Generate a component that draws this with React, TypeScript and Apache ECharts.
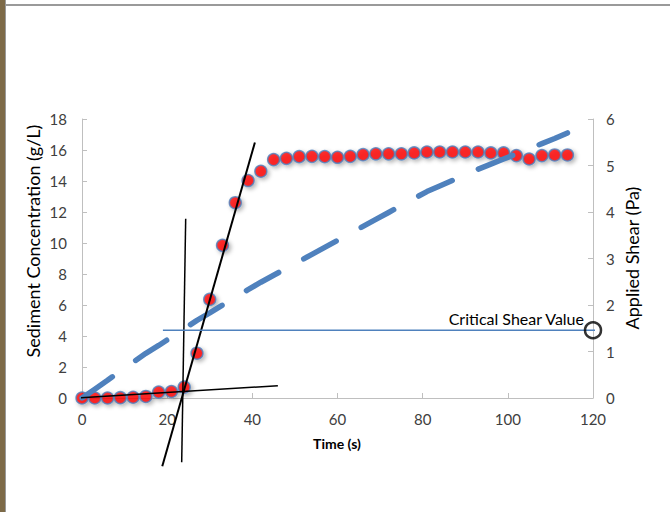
import React, { useEffect, useRef } from "react";
import * as echarts from "echarts";

const timeS = [0, 3, 6, 9, 12, 15, 18, 21, 24, 27, 30, 33, 36, 39, 42, 45, 48, 51, 54, 57, 60, 63, 66, 69, 72, 75, 78, 81, 84, 87, 90, 93, 96, 99, 102, 105, 108, 111, 114];
const sedimentConc = [0.0, 0.0, 0.0, 0.02, 0.05, 0.1, 0.38, 0.42, 0.7, 2.89, 6.36, 9.85, 12.6, 14.03, 14.63, 15.38, 15.46, 15.57, 15.59, 15.57, 15.53, 15.59, 15.7, 15.75, 15.75, 15.75, 15.81, 15.87, 15.87, 15.87, 15.87, 15.87, 15.81, 15.81, 15.64, 15.42, 15.64, 15.68, 15.68];
const appliedShear = [0, 0.19, 0.38, 0.58, 0.77, 0.96, 1.13, 1.31, 1.49, 1.67, 1.83, 2.0, 2.16, 2.33, 2.49, 2.64, 2.79, 2.94, 3.09, 3.24, 3.39, 3.54, 3.69, 3.84, 3.99, 4.14, 4.29, 4.44, 4.56, 4.68, 4.8, 4.92, 5.03, 5.14, 5.25, 5.36, 5.47, 5.58, 5.7];

const steepTangent = [[18.85, -4.4], [40.6, 16.49]];
const baselineTangent = [[-10.8, -0.17], [46, 0.79]];
const onsetLine = [[23.41, -4.14], [24.35, 11.57]];
const criticalShear = 1.457;
const criticalRange = [19, 123];
const criticalMarkerTime = 120;

const xTicks = { min: 0, max: 120, interval: 20 };
const leftTicks = { min: 0, max: 18, interval: 2 };
const rightTicks = { min: 0, max: 6, interval: 1 };

const FONT = "Lato, 'Open Sans', sans-serif";

export default function App() {
  const ref = useRef<HTMLDivElement>(null);
  useEffect(() => {
    if (!ref.current) return;
    const chart = echarts.init(ref.current, undefined, { renderer: "svg" });
    const axisLine = { show: true, lineStyle: { color: "#bfbfbf", width: 1 } };
    const axisTick = { show: true, inside: true, length: 5, lineStyle: { color: "#bfbfbf" } };
    const axisLabel = { color: "#404040", fontSize: 15, fontFamily: FONT };
    chart.setOption({
      animation: false,
      backgroundColor: "#ffffff",
      grid: { left: 82, right: 77, top: 119, bottom: 114, containLabel: false },
      xAxis: {
        type: "value",
        min: xTicks.min,
        max: xTicks.max,
        interval: xTicks.interval,
        axisLine,
        axisTick,
        splitLine: { show: false },
        axisLabel: { ...axisLabel, margin: 13 },
      },
      yAxis: [
        {
          type: "value",
          min: leftTicks.min,
          max: leftTicks.max,
          interval: leftTicks.interval,
          axisLine,
          axisTick,
          splitLine: { show: false },
          axisLabel: { ...axisLabel, margin: 15 },
        },
        {
          type: "value",
          position: "right",
          min: rightTicks.min,
          max: rightTicks.max,
          interval: rightTicks.interval,
          axisLine,
          axisTick,
          splitLine: { show: false },
          axisLabel: { ...axisLabel, margin: 13 },
        },
      ],
      series: [
        {
          name: "Sediment Concentration",
          type: "scatter",
          yAxisIndex: 0,
          symbol: "circle",
          symbolSize: 12,
          data: timeS.map((t, i) => [t, sedimentConc[i]]),
          itemStyle: {
            color: "#ff0000",
            borderColor: "#4f81bd",
            borderWidth: 1.5,
            shadowColor: "rgba(0,0,0,0.35)",
            shadowBlur: 4,
            shadowOffsetX: 2,
            shadowOffsetY: 2,
          },
          z: 2,
        },
        {
          name: "Applied Shear",
          type: "line",
          yAxisIndex: 1,
          symbol: "none",
          smooth: false,
          data: timeS.map((t, i) => [t, appliedShear[i]]),
          lineStyle: { color: "#4f81bd", width: 5.5, type: [37, 28.5], cap: "round" },
          z: 3,
        },
        {
          type: "line",
          yAxisIndex: 0,
          symbol: "none",
          clip: false,
          silent: true,
          data: steepTangent,
          lineStyle: { color: "#000", width: 2 },
          z: 4,
        },
        {
          type: "line",
          yAxisIndex: 0,
          symbol: "none",
          clip: false,
          silent: true,
          data: baselineTangent,
          lineStyle: { color: "#000", width: 1.5 },
          z: 4,
        },
        {
          type: "line",
          yAxisIndex: 0,
          symbol: "none",
          clip: false,
          silent: true,
          data: onsetLine,
          lineStyle: { color: "#000", width: 1.5 },
          z: 4,
        },
        {
          type: "line",
          yAxisIndex: 1,
          symbol: "none",
          clip: false,
          silent: true,
          data: criticalRange.map((t) => [t, criticalShear]),
          lineStyle: { color: "#4f81bd", width: 1.5 },
          z: 4,
        },
        {
          type: "scatter",
          yAxisIndex: 1,
          symbol: "circle",
          symbolSize: 16,
          clip: false,
          silent: true,
          data: [[criticalMarkerTime, criticalShear]],
          itemStyle: { color: "rgba(0,0,0,0)", borderColor: "#000", borderWidth: 2.5 },
          z: 5,
        },
      ],
      graphic: [
        { type: "rect", left: 0, top: 0, shape: { width: 5, height: 512 }, style: { fill: "#7d6a48" }, silent: true },
        { type: "line", shape: { x1: 5.5, y1: 0, x2: 5.5, y2: 512 }, style: { stroke: "#9a9a9a", lineWidth: 1 }, silent: true },
        { type: "line", shape: { x1: 5, y1: 5, x2: 670, y2: 5 }, style: { stroke: "#9a9a9a", lineWidth: 2 }, silent: true },
        {
          type: "text",
          x: 33,
          y: 241,
          rotation: Math.PI / 2,
          style: { text: "Sediment Concentration (g/L)", fill: "#000", font: `18px ${FONT}`, align: "center", verticalAlign: "middle" },
          silent: true,
        },
        {
          type: "text",
          x: 632,
          y: 258,
          rotation: Math.PI / 2,
          style: { text: "Applied Shear (Pa)", fill: "#000", font: `18px ${FONT}`, align: "center", verticalAlign: "middle" },
          silent: true,
        },
        {
          type: "text",
          x: 337,
          y: 443,
          style: { text: "Time (s)", fill: "#000", font: `bold 14px ${FONT}`, align: "center", verticalAlign: "middle" },
          silent: true,
        },
        {
          type: "text",
          x: 584,
          y: 318,
          style: { text: "Critical Shear Value", fill: "#000", font: `16px ${FONT}`, align: "right", verticalAlign: "middle" },
          silent: true,
        },
      ],
    });
    return () => chart.dispose();
  }, []);
  return <div ref={ref} style={{ position: "fixed", left: 0, top: 0, width: 670, height: 512 }} />;
}
